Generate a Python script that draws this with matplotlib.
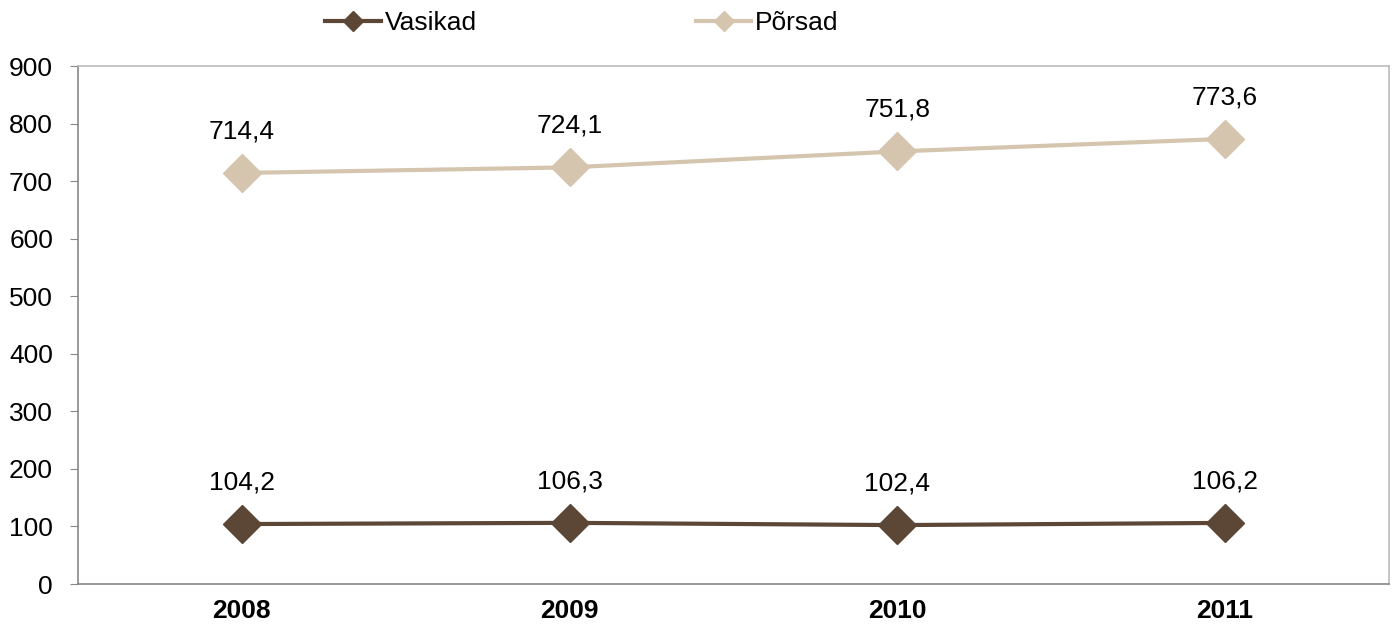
import matplotlib.pyplot as plt

plt.rcParams['font.family'] = ['Liberation Sans', 'DejaVu Sans']

years = ['2008', '2009', '2010', '2011']
vasikad = [104.2, 106.3, 102.4, 106.2]
porsad = [714.4, 724.1, 751.8, 773.6]

dark = '#5c4636'
light = '#d5c4ae'
fs = 19

fig = plt.figure(figsize=(13.94, 6.3), dpi=100)
ax = fig.add_axes([0.056, 0.073, 0.9404, 0.822])

x = [i + 0.5 for i in range(len(years))]
ax.plot(x, vasikad, color=dark, lw=3, marker='D', ms=19, label='Vasikad')
ax.plot(x, porsad, color=light, lw=3, marker='D', ms=19, label='Põrsad')

for series in (vasikad, porsad):
    for xi, v in zip(x, series):
        ax.annotate(f'{v:.1f}'.replace('.', ','), (xi, v), xytext=(0, 30),
                    textcoords='offset points', ha='center', va='center',
                    fontsize=fs)

ax.set_xlim(0, 4)
ax.set_ylim(0, 900)
ax.set_yticks(range(0, 901, 100))
ax.set_xticks(x)
ax.set_xticklabels(years, fontsize=fs, fontweight='bold')
ax.tick_params(axis='x', length=0, pad=11)
ax.tick_params(axis='y', length=6, color='#888888', labelsize=fs, pad=12)

for s in ['top', 'right']:
    ax.spines[s].set_color('#bbbbbb')
for s in ['left', 'bottom']:
    ax.spines[s].set_color('#888888')
for s in ax.spines.values():
    s.set_linewidth(1.2)

fig.legend(loc='center', bbox_to_anchor=(0.4175, 0.963), ncol=2, frameon=False,
           fontsize=fs, handlelength=2.1, handletextpad=0.15, columnspacing=8.3,
           markerscale=0.55)

fig.savefig('out.png', dpi=100)
